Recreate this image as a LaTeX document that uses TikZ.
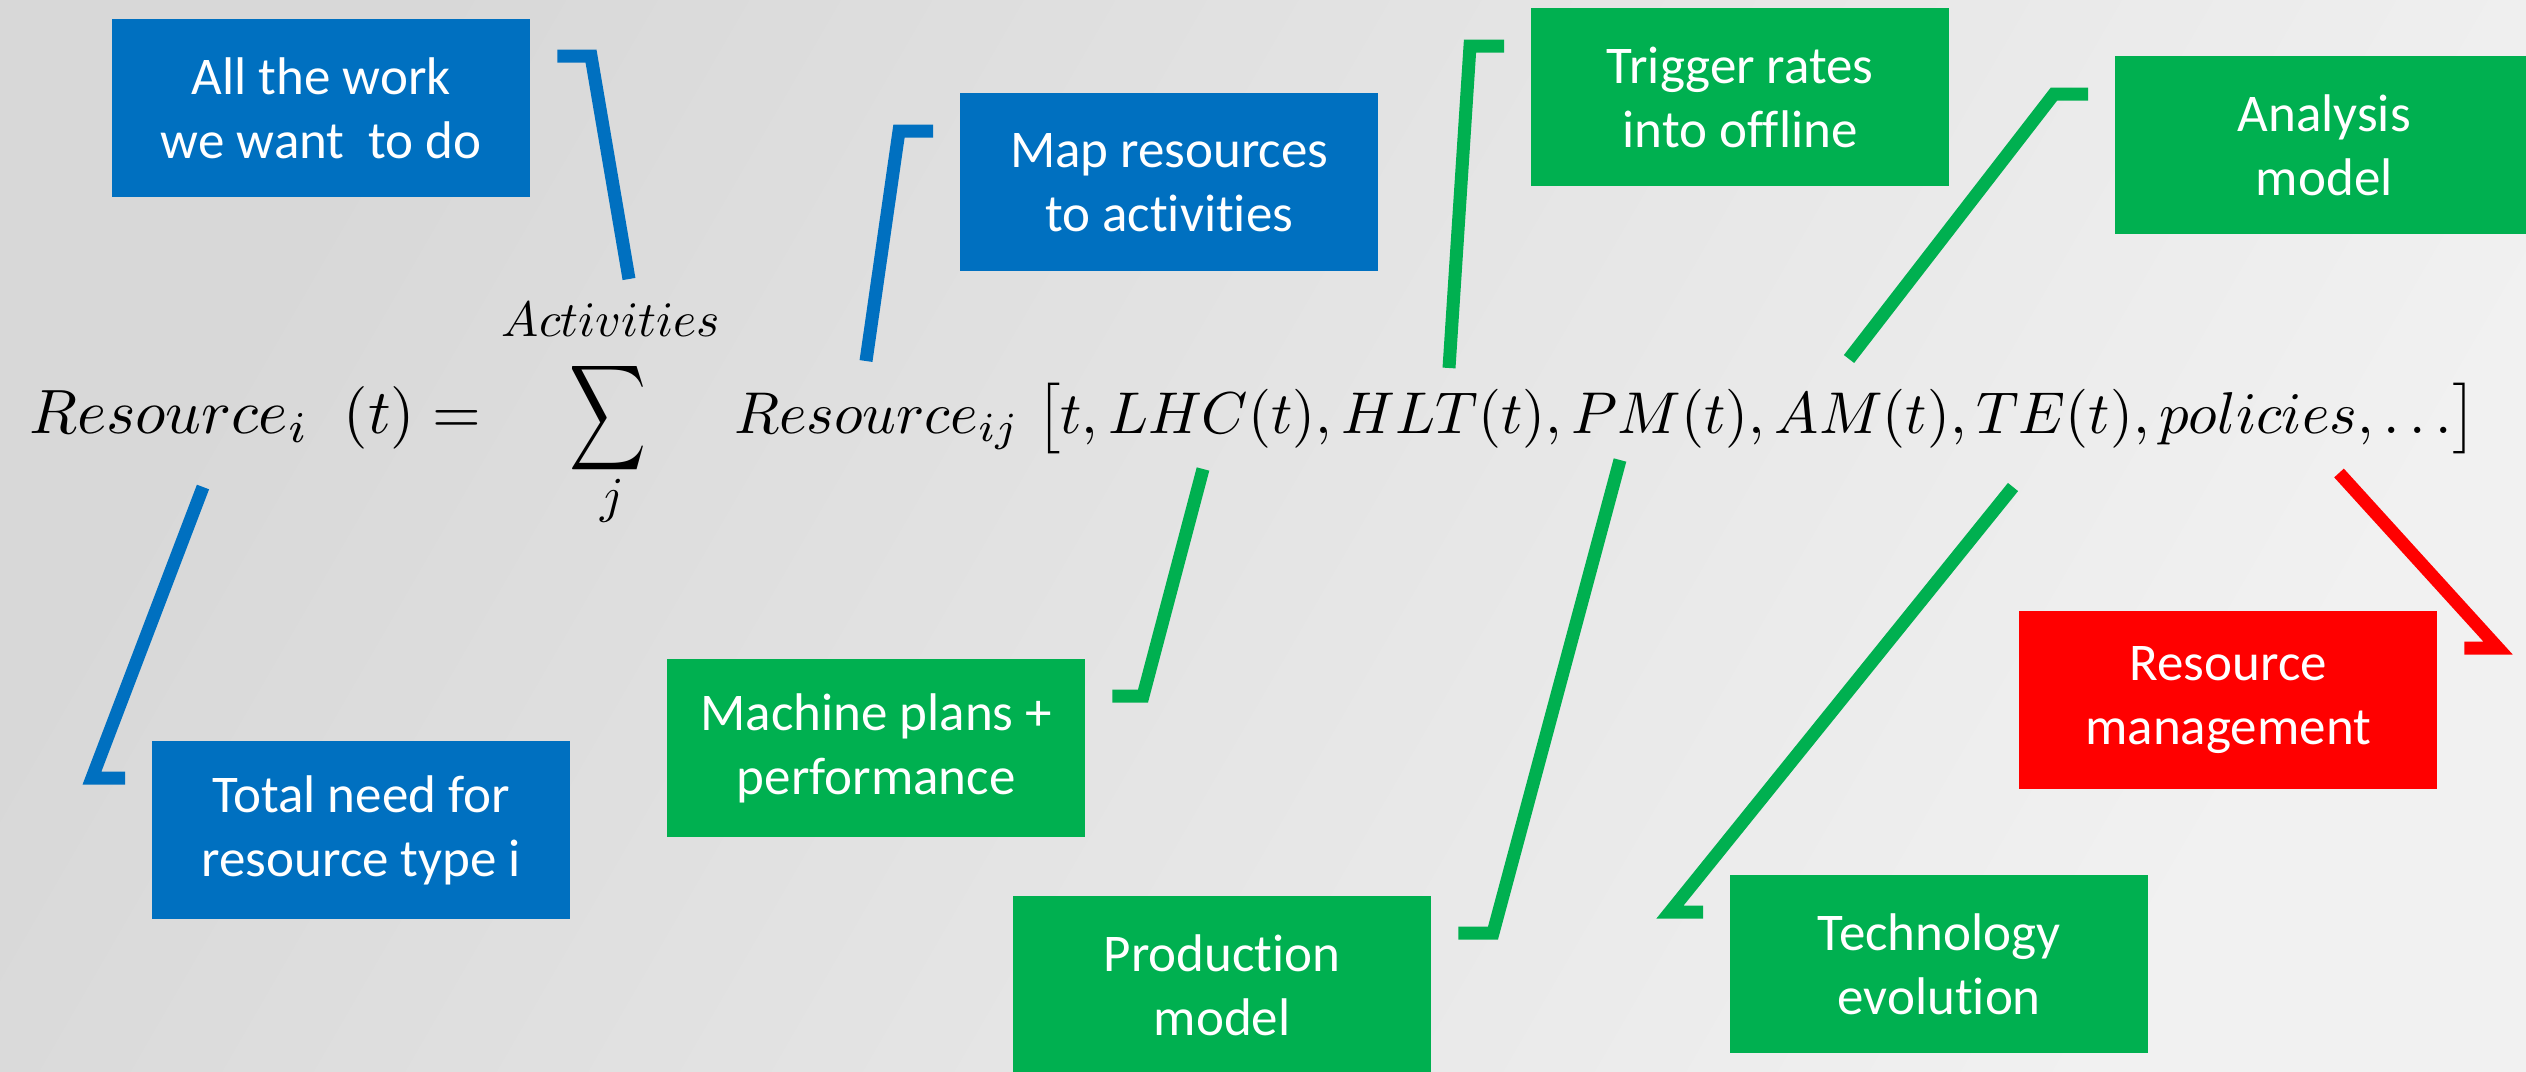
\documentclass[tikz,border=0pt]{standalone}
\usepackage{fontspec}
\usepackage{amsmath}
\usepackage{graphicx}
\usetikzlibrary{calc}
\newfontfamily\boxfont[Ligatures={NoCommon,NoRequired,NoContextual}]{Carlito}

\definecolor{calloutblue}{HTML}{0070C0}
\definecolor{calloutgreen}{HTML}{00B050}
\definecolor{calloutred}{HTML}{FF0000}
\definecolor{bgdark}{HTML}{D8D8D8}
\definecolor{bglight}{HTML}{F1F1F1}

\begin{document}
\begin{tikzpicture}[x=1pt, y=-1pt,
  labelbox/.style={rectangle, inner sep=0pt, minimum width=418pt, minimum height=178pt,
    anchor=north west, text=white, align=center,
    font={\boxfont\fontsize{53pt}{64pt}\selectfont}},
  bluebox/.style={labelbox, fill=calloutblue},
  greenbox/.style={labelbox, fill=calloutgreen},
  redbox/.style={labelbox, fill=calloutred},
  callout/.style={line width=13pt, line join=miter, line cap=butt},
  eqpart/.style={inner sep=0pt}
]
% canvas and background
\useasboundingbox (0,0) rectangle (2526,1071);
\clip (0,0) rectangle (2526,1071);
\shade[top color=bgdark, bottom color=bglight, shading angle=60] (0,0) rectangle (2526,1071);

% the equation
\node[eqpart, anchor=base west] (lhs) at (29,433)
  {\resizebox{452pt}{!}{$Resource_i\;\;(t) =$}};
\node[eqpart] (sigma) at (608.5,418)
  {\resizebox*{77pt}{118pt}{$\displaystyle\sum$}};
\node[eqpart, anchor=base] (upper) at (611,336)
  {\resizebox{218pt}{!}{$Activities$}};
\node[eqpart] (lower) at (612,501)
  {\resizebox*{!}{43pt}{$j$}};
\node[eqpart, anchor=base west] (rhs) at (734,433)
  {\resizebox{1743pt}{!}{$Resource_{ij}\;\bigl[t, LHC(t), HLT(t), PM(t), AM(t), TE(t), policies, \ldots\bigr]$}};

% labels
\node[bluebox]  (work)       at (112,19)   {All the work\\we want\ \ to do};
\node[bluebox]  (total)      at (152,741)  {Total need for\\resource type i};
\node[bluebox]  (map)        at (960,93)   {Map resources\\to activities};
\node[greenbox] (trigger)    at (1531,8)   {Trigger rates\\into offline};
\node[greenbox] (analysis)   at (2115,56)  {Analysis\\model};
\node[greenbox] (machine)    at (667,659)  {Machine plans +\\performance};
\node[greenbox] (production) at (1013,896) {Production\\model};
\node[greenbox] (tech)       at (1730,875) {Technology\\evolution};
\node[redbox]   (resmgmt)    at (2019,611) {Resource\\management};

% connector tips at the equation terms and their bends
\coordinate (workTip)  at (629,279);   \coordinate (workBend)  at (591,56);
\coordinate (totalTip) at (203,487);   \coordinate (totalBend) at (92,778);
\coordinate (mapTip)   at (866,361);   \coordinate (mapBend)   at (899,131);
\coordinate (trigTip)  at (1449,368);  \coordinate (trigBend)  at (1470,46);
\coordinate (anaTip)   at (1849,359);  \coordinate (anaBend)   at (2054,94);
\coordinate (machTip)  at (1203,469);  \coordinate (machBend)  at (1143,696);
\coordinate (prodTip)  at (1620,460);  \coordinate (prodBend)  at (1493,933);
\coordinate (techTip)  at (2013,487);  \coordinate (techBend)  at (1670,912);
\coordinate (rmTip)    at (2339,473);  \coordinate (rmBend)    at (2498,648);

% connectors
\draw[callout, calloutblue]  (workTip)  -- (workBend)  -- ($(work.east |- workBend)+(27,0)$);
\draw[callout, calloutblue]  (totalTip) -- (totalBend) -- ($(total.west |- totalBend)+(-27,0)$);
\draw[callout, calloutblue]  (mapTip)   -- (mapBend)   -- ($(map.west |- mapBend)+(-27,0)$);
\draw[callout, calloutgreen] (trigTip)  -- (trigBend)  -- ($(trigger.west |- trigBend)+(-27,0)$);
\draw[callout, calloutgreen] (anaTip)   -- (anaBend)   -- ($(analysis.west |- anaBend)+(-27,0)$);
\draw[callout, calloutgreen] (machTip)  -- (machBend)  -- ($(machine.east |- machBend)+(27,0)$);
\draw[callout, calloutgreen] (prodTip)  -- (prodBend)  -- ($(production.east |- prodBend)+(27,0)$);
\draw[callout, calloutgreen] (techTip)  -- (techBend)  -- ($(tech.west |- techBend)+(-27,0)$);
\draw[callout, calloutred]   (rmTip)    -- (rmBend)    -- ($(resmgmt.east |- rmBend)+(27,0)$);
\end{tikzpicture}
\end{document}
